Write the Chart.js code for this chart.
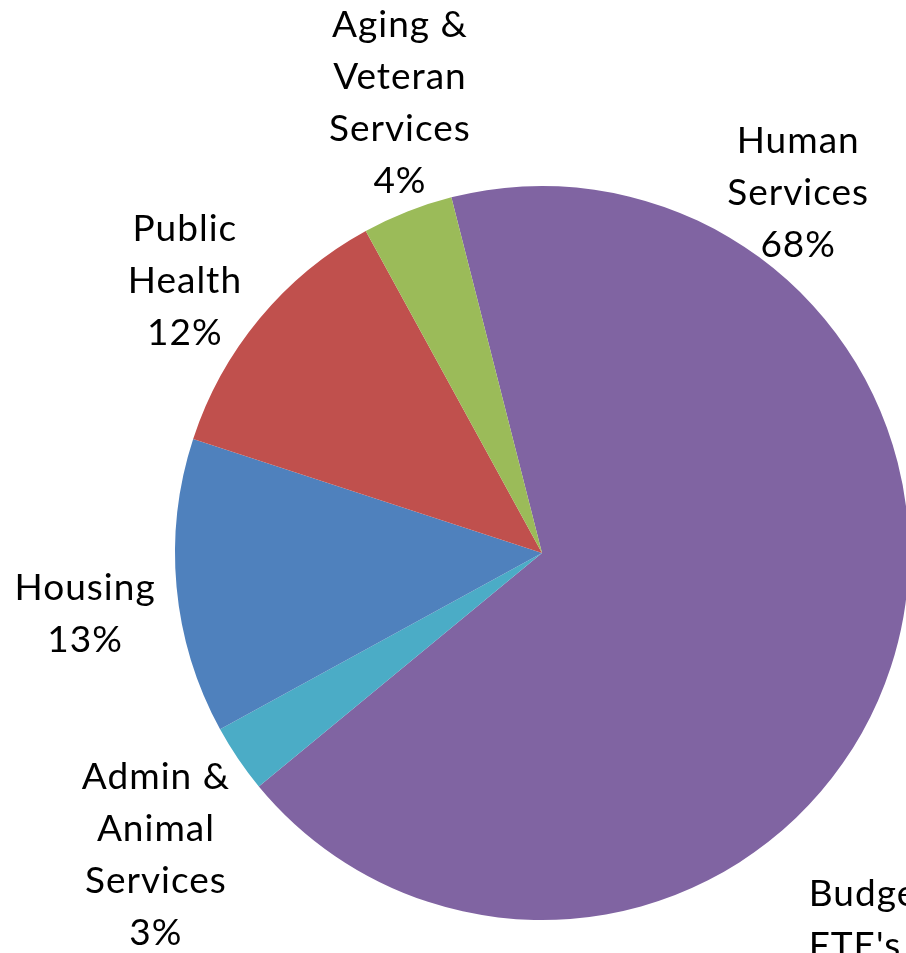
<!DOCTYPE html>
<html>
<head>
<meta charset="utf-8">
<script src="https://cdn.jsdelivr.net/npm/chart.js@4/dist/chart.umd.min.js"></script>
<style>
  html, body { margin: 0; padding: 0; background: #fff; overflow: hidden; }
  #wrap { position: absolute; left: 0; top: 0; width: 1100px; height: 953px; }
</style>
</head>
<body>
<div id="wrap"><canvas id="fteChart" width="1100" height="953"></canvas></div>
<script>
// Budget FTE's by department (percent)
var departments = ['Human Services', 'Admin & Animal Services', 'Housing', 'Public Health', 'Aging & Veteran Services'];
var ftePercent = [68, 3, 13, 12, 4];
var labelLines = [
  ['Human', 'Services', '68%'],
  ['Admin &', 'Animal', 'Services', '3%'],
  ['Housing', '13%'],
  ['Public', 'Health', '12%'],
  ['Aging &', 'Veteran', 'Services', '4%']
];
var titleLines = ['Budget', "FTE's"];

var sliceColors = ['#8064A2', '#4BACC6', '#4F81BD', '#C0504D', '#9BBB59'];
// where each label block sits, relative to pie centre, in radius units
var labelPos = [
  [0.698, -0.981],
  [-1.052, 0.824],
  [-1.245, 0.166],
  [-0.973, -0.741],
  [-0.387, -1.226]
];

var FONT = '37px Lato, "Open Sans", sans-serif';
var LINE_H = 52;

var labelPlugin = {
  id: 'sliceLabels',
  afterDraw: function(chart) {
    var ctx = chart.ctx;
    var arc = chart.getDatasetMeta(0).data[0];
    var cx = arc.x, cy = arc.y, r = arc.outerRadius;
    ctx.save();
    ctx.font = FONT;
    ctx.fillStyle = '#000';
    ctx.textBaseline = 'middle';
    if ('letterSpacing' in ctx) ctx.letterSpacing = '1px';
    ctx.textAlign = 'center';
    for (var i = 0; i < labelLines.length; i++) {
      var lines = labelLines[i];
      var x = cx + labelPos[i][0] * r;
      var y0 = cy + labelPos[i][1] * r - (lines.length - 1) * LINE_H / 2;
      for (var j = 0; j < lines.length; j++) {
        ctx.fillText(lines[j], x, y0 + j * LINE_H);
      }
    }
    // chart title, bottom right
    ctx.textAlign = 'left';
    var tx = cx + 0.727 * r, ty = cy + 0.928 * r;
    for (var k = 0; k < titleLines.length; k++) {
      ctx.fillText(titleLines[k], tx, ty + k * LINE_H);
    }
    ctx.restore();
  }
};

var ctx = document.getElementById('fteChart').getContext('2d');
var fteChart = new Chart(ctx, {
  type: 'pie',
  data: {
    labels: departments,
    datasets: [{
      data: ftePercent,
      backgroundColor: sliceColors,
      borderWidth: 0
    }]
  },
  options: {
    responsive: false,
    animation: false,
    rotation: -14.3,
    layout: { padding: { left: 175, right: 191, top: 186, bottom: 33 } },
    plugins: {
      legend: { display: false },
      tooltip: { enabled: false }
    }
  },
  plugins: [labelPlugin]
});
</script>
</body>
</html>
